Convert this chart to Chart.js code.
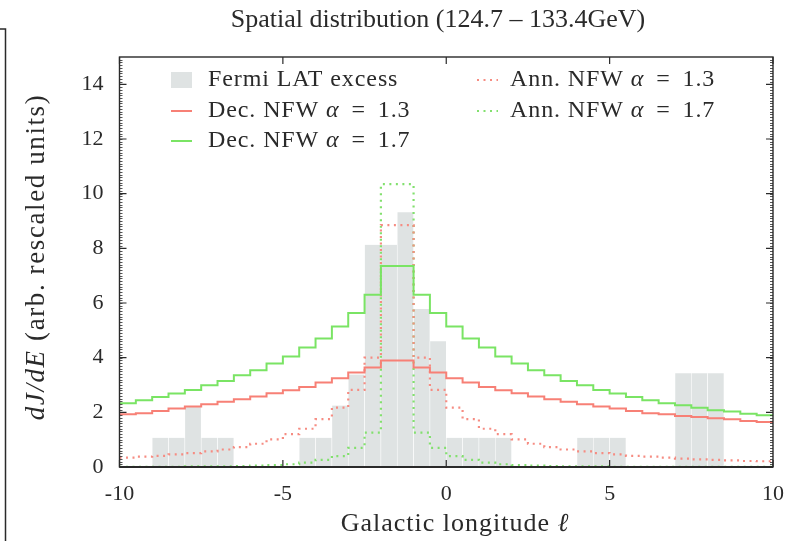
<!DOCTYPE html>
<html>
<head>
<meta charset="utf-8">
<title>Spatial distribution</title>
<script src="https://cdn.jsdelivr.net/npm/chart.js@4.4.0/dist/chart.umd.min.js"></script>
<style>
    html, body { margin: 0; padding: 0; background: #fff; }
    #chart { display: block; }
</style>
</head>
<body>
<canvas id="chart" width="794" height="541"></canvas>
<script>
// ==================== DATA ====================
// bin edges in Galactic longitude (deg)
const binEdges = [-10, -9.5, -9, -8.5, -8, -7.5, -7, -6.5, -6, -5.5, -5, -4.5, -4, -3.5, -3, -2.5, -2, -1.5, -1, -0.5,
                  0, 0.5, 1, 1.5, 2, 2.5, 3, 3.5, 4, 4.5, 5, 5.5, 6, 6.5, 7, 7.5, 8, 8.5, 9, 9.5, 10];

const fermiExcess = [0, 0, 1.07, 1.07, 2.2, 1.07, 1.07, 0, 0, 0, 0, 1.07, 1.07, 2.25, 3.38, 8.13, 8.13, 9.32, 5.78, 4.6,
                     1.07, 1.07, 1.07, 1.07, 0, 0, 0, 0, 1.07, 1.07, 1.07, 0, 0, 0, 3.43, 3.43, 3.43, 0, 0, 0];

const decNFW13 = [1.93, 1.97, 2.05, 2.14, 2.21, 2.30, 2.39, 2.48, 2.58, 2.70, 2.81, 2.93, 3.09, 3.25, 3.46, 3.64, 3.90, 3.90, 3.64, 3.46,
                  3.25, 3.09, 2.93, 2.81, 2.70, 2.58, 2.48, 2.39, 2.30, 2.21, 2.14, 2.05, 1.97, 1.93, 1.87, 1.83, 1.78, 1.75, 1.68, 1.65];

const decNFW17 = [2.33, 2.44, 2.56, 2.69, 2.82, 2.99, 3.15, 3.36, 3.54, 3.79, 4.04, 4.37, 4.70, 5.14, 5.63, 6.30, 7.35, 7.35, 6.30, 5.63,
                  5.14, 4.70, 4.37, 4.04, 3.79, 3.54, 3.36, 3.15, 2.99, 2.82, 2.69, 2.56, 2.44, 2.33, 2.26, 2.17, 2.08, 2.03, 1.95, 1.89];

const annNFW13 = [0.34, 0.38, 0.41, 0.46, 0.51, 0.57, 0.64, 0.73, 0.85, 1.01, 1.20, 1.40, 1.75, 2.17, 2.82, 4.00, 8.85, 8.85, 4.00, 2.82,
                  2.17, 1.75, 1.40, 1.20, 1.01, 0.85, 0.73, 0.64, 0.57, 0.51, 0.46, 0.41, 0.38, 0.34, 0.31, 0.28, 0.26, 0.24, 0.22, 0.21];

const annNFW17 = [0.01, 0.01, 0.01, 0.01, 0.02, 0.02, 0.02, 0.03, 0.05, 0.07, 0.10, 0.16, 0.26, 0.40, 0.70, 1.26, 10.35, 10.35, 1.26, 0.70,
                  0.40, 0.26, 0.16, 0.10, 0.07, 0.05, 0.03, 0.02, 0.02, 0.02, 0.01, 0.01, 0.01, 0.01, 0.01, 0.01, 0.01, 0.01, 0.01, 0.01];

const xTicks = [-10, -5, 0, 5, 10];
const yTicks = [0, 2, 4, 6, 8, 10, 12, 14];

const chartTitle = 'Spatial distribution (124.7 \u2013 133.4GeV)';

// ==================== HELPERS ====================
const SERIF = '"Liberation Serif", "DejaVu Serif", serif';
const INK = '#2a2a2a';

// bar centred in each bin
function barPoints(values) {
    return values.map((v, i) => ({ x: (binEdges[i] + binEdges[i + 1]) / 2, y: v }));
}

// histogram outline: one point at each left edge, plus the closing right edge
function stepPoints(values) {
    const pts = values.map((v, i) => ({ x: binEdges[i], y: v }));
    pts.push({ x: binEdges[binEdges.length - 1], y: values[values.length - 1] });
    return pts;
}

// draw text made of parts, some in italics; gap = extra px after a part
function drawMixed(ctx, parts, x, y, size, spacing, doDraw) {
    let cx = x;
    ctx.letterSpacing = spacing + 'px';
    parts.forEach(p => {
        ctx.font = (p.it ? 'italic ' : '') + size + 'px ' + SERIF;
        if (doDraw !== false) ctx.fillText(p.t, cx, y);
        cx += ctx.measureText(p.t).width + (p.gap || 0);
    });
    ctx.letterSpacing = '0px';
    return cx - x;
}

// "Dec. NFW α = 1.3" -> regular / italic alpha / regular, with wider math spacing round "="
function splitLabel(label) {
    const k = label.indexOf('\u03b1');
    if (k < 0) return [{ t: label, it: false }];
    const rest = label.slice(k + 1).split('=');
    return [
        { t: label.slice(0, k), it: false },
        { t: '\u03b1', it: true, gap: 5 },
        { t: rest[0] + '=', it: false, gap: 5 },
        { t: rest[1], it: false }
    ];
}

// ==================== DECORATION PLUGIN ====================
const decorPlugin = {
    id: 'decor',
    afterDatasetsDraw(chart) {
        const { ctx, chartArea: a, scales: { x, y } } = chart;
        ctx.save();
        ctx.strokeStyle = INK;

        // minor y ticks (every 0.1) on both sides
        ctx.lineWidth = 0.8;
        ctx.beginPath();
        for (let k = 1; k < 150; k++) {
            const py = Math.round(y.getPixelForValue(k / 10)) + 0.5;
            ctx.moveTo(a.left, py); ctx.lineTo(a.left + 3, py);
            ctx.moveTo(a.right, py); ctx.lineTo(a.right - 3, py);
        }
        ctx.stroke();

        // major ticks, mirrored
        ctx.lineWidth = 1.2;
        ctx.beginPath();
        yTicks.forEach(v => {
            const py = y.getPixelForValue(v);
            ctx.moveTo(a.left, py); ctx.lineTo(a.left + 7, py);
            ctx.moveTo(a.right, py); ctx.lineTo(a.right - 7, py);
        });
        xTicks.forEach(v => {
            const px = x.getPixelForValue(v);
            ctx.moveTo(px, a.bottom); ctx.lineTo(px, a.bottom - 7);
            ctx.moveTo(px, a.top); ctx.lineTo(px, a.top + 7);
        });
        ctx.stroke();

        // frame
        ctx.lineWidth = 1.4;
        ctx.strokeRect(a.left, a.top, a.right - a.left, a.bottom - a.top);
        ctx.lineWidth = 2.2;
        ctx.beginPath();
        ctx.moveTo(a.left, a.bottom); ctx.lineTo(a.right, a.bottom);
        ctx.stroke();

        // stray page border at far left
        ctx.lineWidth = 1.5;
        ctx.beginPath();
        ctx.moveTo(0, 29); ctx.lineTo(5.5, 29); ctx.lineTo(5.5, 541);
        ctx.stroke();
        ctx.restore();
    },
    afterDraw(chart) {
        const { ctx } = chart;
        ctx.save();
        ctx.fillStyle = INK;
        ctx.textBaseline = 'middle';
        ctx.textAlign = 'left';

        // title
        const tParts = [{ t: chartTitle, it: false }];
        const tw = drawMixed(ctx, tParts, 0, 0, 26, 0, false);
        drawMixed(ctx, tParts, 438 - tw / 2, 20, 26, 0);

        // x title
        const xParts = [{ t: 'Galactic longitude ', it: false }, { t: '\u2113', it: true }];
        const xw = drawMixed(ctx, xParts, 0, 0, 26, 1, false);
        drawMixed(ctx, xParts, 455 - xw / 2, 524, 26, 1);

        // y title (rotated)
        const yParts = [{ t: 'dJ/dE', it: true }, { t: ' (arb. rescaled units)', it: false }];
        const yw = drawMixed(ctx, yParts, 0, 0, 27, 1.6, false);
        ctx.save();
        ctx.translate(37, 257);
        ctx.rotate(-Math.PI / 2);
        drawMixed(ctx, yParts, -yw / 2, 0, 27, 1.6);
        ctx.restore();

        // legend
        const slots = [
            { x: 171, y: 80 }, { x: 171, y: 111 }, { x: 171, y: 141 },
            { x: 477, y: 80 }, { x: 477, y: 111 }
        ];
        chart.data.datasets.forEach((ds, i) => {
            const s = slots[i];
            const tx = i < 3 ? 208 : 510;
            if (ds.type === 'bar') {
                ctx.fillStyle = ds.backgroundColor;
                ctx.fillRect(s.x, s.y - 8, 21, 16);
            } else {
                ctx.save();
                ctx.strokeStyle = ds.borderColor;
                ctx.lineWidth = ds.borderWidth;
                ctx.setLineDash(ds.borderDash || []);
                ctx.beginPath();
                ctx.moveTo(s.x, s.y); ctx.lineTo(s.x + 21, s.y);
                ctx.stroke();
                ctx.restore();
            }
            ctx.fillStyle = INK;
            drawMixed(ctx, splitLabel(ds.label), tx, s.y, 24, 0.9);
        });
        ctx.restore();
    }
};

// ==================== CHART ====================
const RED = 'rgb(247, 128, 118)';
const GREEN = 'rgb(122, 228, 100)';
const RED_DOT = 'rgb(246, 140, 130)';
const GREEN_DOT = 'rgb(130, 224, 110)';

function stepDataset(label, values, color, dotted) {
    return {
        type: 'line',
        label: label,
        data: stepPoints(values),
        borderColor: color,
        borderWidth: dotted ? 2.2 : 2,
        borderDash: dotted ? [2, 4.5] : [],
        stepped: 'before',
        pointRadius: 0,
        fill: false,
        order: 1
    };
}

new Chart(document.getElementById('chart').getContext('2d'), {
    type: 'bar',
    data: {
        datasets: [
            {
                type: 'bar',
                label: 'Fermi LAT excess',
                data: barPoints(fermiExcess),
                backgroundColor: '#dfe3e3',
                borderColor: 'rgba(255, 255, 255, 0.85)',
                borderWidth: { left: 0.6, right: 0.6, top: 0, bottom: 0 },
                borderSkipped: false,
                barPercentage: 1,
                categoryPercentage: 1,
                order: 5
            },
            stepDataset('Dec. NFW \u03b1 = 1.3', decNFW13, RED, false),
            stepDataset('Dec. NFW \u03b1 = 1.7', decNFW17, GREEN, false),
            stepDataset('Ann. NFW \u03b1 = 1.3', annNFW13, RED_DOT, true),
            stepDataset('Ann. NFW \u03b1 = 1.7', annNFW17, GREEN_DOT, true)
        ]
    },
    options: {
        responsive: false,
        animation: false,
        layout: { padding: { left: 0, top: 57, right: 21, bottom: 0 } },
        plugins: {
            legend: { display: false },
            tooltip: { enabled: false },
            title: { display: false }
        },
        scales: {
            x: {
                type: 'linear',
                offset: false,
                min: -10,
                max: 10,
                grid: { display: false, drawTicks: false },
                border: { display: false },
                afterBuildTicks: s => { s.ticks = xTicks.map(v => ({ value: v })); },
                afterFit: s => {
                    s.height = 74;
                    s.paddingLeft = 0;
                    s.paddingRight = 0;
                },
                ticks: {
                    padding: 14,
                    color: INK,
                    font: { family: SERIF, size: 22 },
                    maxRotation: 0,
                    callback: v => String(v)
                }
            },
            y: {
                type: 'linear',
                min: 0,
                max: 15,
                grid: { display: false, drawTicks: false },
                border: { display: false },
                afterBuildTicks: s => { s.ticks = yTicks.map(v => ({ value: v })); },
                afterFit: s => {
                    s.width = 119.5;
                    s.paddingTop = 0;
                    s.paddingBottom = 0;
                },
                ticks: {
                    padding: 16,
                    color: INK,
                    font: { family: SERIF, size: 22 },
                    callback: v => String(v)
                }
            }
        }
    },
    plugins: [decorPlugin]
});
</script>
</body>
</html>
